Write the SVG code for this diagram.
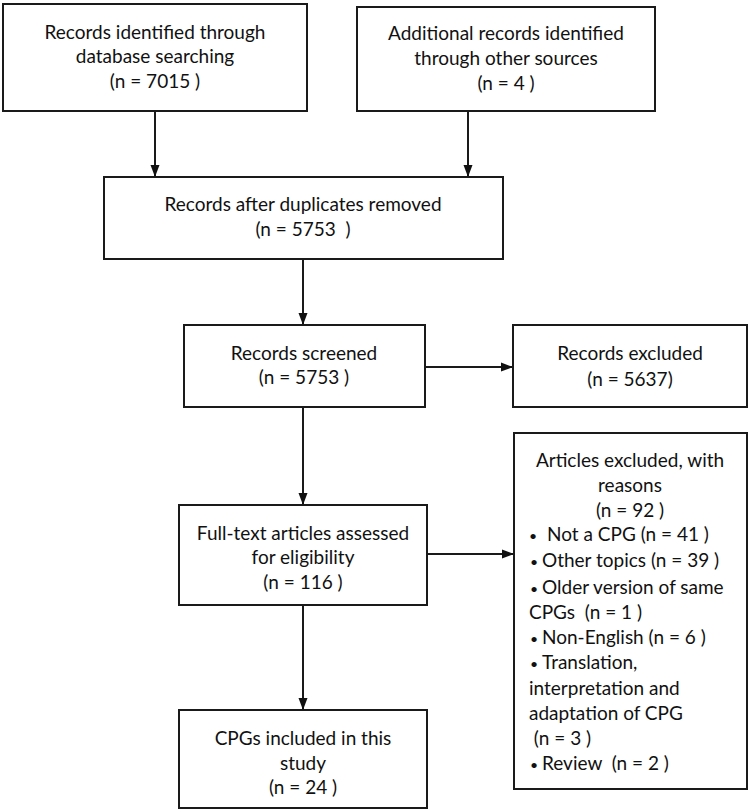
<svg xmlns="http://www.w3.org/2000/svg" width="750" height="811" viewBox="0 0 750 811">
<defs>
<style>
.box{fill:#fff;stroke:#1a1a1a;stroke-width:2}
.t{font-family:Lato,"Open Sans","Liberation Sans",sans-serif;font-size:19px;fill:#111;text-anchor:middle;white-space:pre}
.l{text-anchor:start}
.b{font-size:14px}
.c{fill:none;stroke:#1a1a1a;stroke-width:2}
</style>
<marker id="ah" markerUnits="userSpaceOnUse" markerWidth="12" markerHeight="12" viewBox="0 0 12 12" refX="12" refY="6" orient="auto">
<path d="M0,1.5 L12,6 L0,10.5 Z" fill="#111"/>
</marker>
</defs>
<rect width="750" height="811" fill="#fff"/>
<g id="connectors">
<line class="c" x1="155" y1="111" x2="155" y2="177" marker-end="url(#ah)"/>
<line class="c" x1="468" y1="111" x2="468" y2="177" marker-end="url(#ah)"/>
<line class="c" x1="303" y1="259" x2="303" y2="325" marker-end="url(#ah)"/>
<line class="c" x1="425" y1="367" x2="513" y2="367" marker-end="url(#ah)"/>
<line class="c" x1="303" y1="407" x2="303" y2="505" marker-end="url(#ah)"/>
<line class="c" x1="427" y1="554" x2="514" y2="554" marker-end="url(#ah)"/>
<line class="c" x1="303" y1="605" x2="303" y2="710" marker-end="url(#ah)"/>
</g>
<g id="n1">
<rect class="box" x="3" y="4" width="304" height="107"/>
<text class="t" x="155" y="38.5">Records identified through</text>
<text class="t" x="155" y="62.5">database searching</text>
<text class="t" x="155" y="87.5">(n = 7015 )</text>
</g>
<g id="n2">
<rect class="box" x="357" y="7" width="298" height="104"/>
<text class="t" x="506" y="39.5">Additional records identified</text>
<text class="t" x="506" y="64.5">through other sources</text>
<text class="t" x="506" y="89.5">(n = 4 )</text>
</g>
<g id="n3">
<rect class="box" x="104" y="177" width="399" height="82"/>
<text class="t" x="303" y="210.5">Records after duplicates removed</text>
<text class="t" x="303" y="235.5">(n = 5753  )</text>
</g>
<g id="n4">
<rect class="box" x="184" y="325" width="241" height="82"/>
<text class="t" x="304" y="359.5">Records screened</text>
<text class="t" x="304" y="383.5">(n = 5753 )</text>
</g>
<g id="n5">
<rect class="box" x="513" y="325" width="234" height="82"/>
<text class="t" x="630" y="359.5">Records excluded</text>
<text class="t" x="630" y="385.5">(n = 5637)</text>
</g>
<g id="n6">
<rect class="box" x="179" y="505" width="248" height="100"/>
<text class="t" x="303" y="539.5">Full-text articles assessed</text>
<text class="t" x="303" y="563.5">for eligibility</text>
<text class="t" x="303" y="588.5">(n = 116 )</text>
</g>
<g id="n7">
<rect class="box" x="514" y="433" width="233" height="356"/>
<text class="t" x="630" y="466.5">Articles excluded, with</text>
<text class="t" x="630" y="491.5">reasons</text>
<text class="t" x="630" y="516.5">(n = 92 )</text>
<text class="t l" y="540.5"><tspan class="b" x="529">•</tspan><tspan x="547">Not a CPG (n = 41 )</tspan></text>
<text class="t l" y="566.5"><tspan class="b" x="530">•</tspan><tspan x="542">Other topics (n = 39 )</tspan></text>
<text class="t l" y="593.5"><tspan class="b" x="530">•</tspan><tspan x="542">Older version of same</tspan></text>
<text class="t l" x="529" y="618.5">CPGs  (n = 1 )</text>
<text class="t l" y="643.5"><tspan class="b" x="530">•</tspan><tspan x="542">Non-English (n = 6 )</tspan></text>
<text class="t l" y="668.5"><tspan class="b" x="530">•</tspan><tspan x="542">Translation,</tspan></text>
<text class="t l" x="529" y="694.5">interpretation and</text>
<text class="t l" x="529" y="719.5">adaptation of CPG</text>
<text class="t l" x="529" y="744.5"> (n = 3 )</text>
<text class="t l" y="769.5"><tspan class="b" x="530">•</tspan><tspan x="542">Review  (n = 2 )</tspan></text>
</g>
<g id="n8">
<rect class="box" x="179" y="710" width="248" height="98"/>
<text class="t" x="303" y="744.5">CPGs included in this</text>
<text class="t" x="303" y="769.5">study</text>
<text class="t" x="303" y="793.5">(n = 24 )</text>
</g>
</svg>
